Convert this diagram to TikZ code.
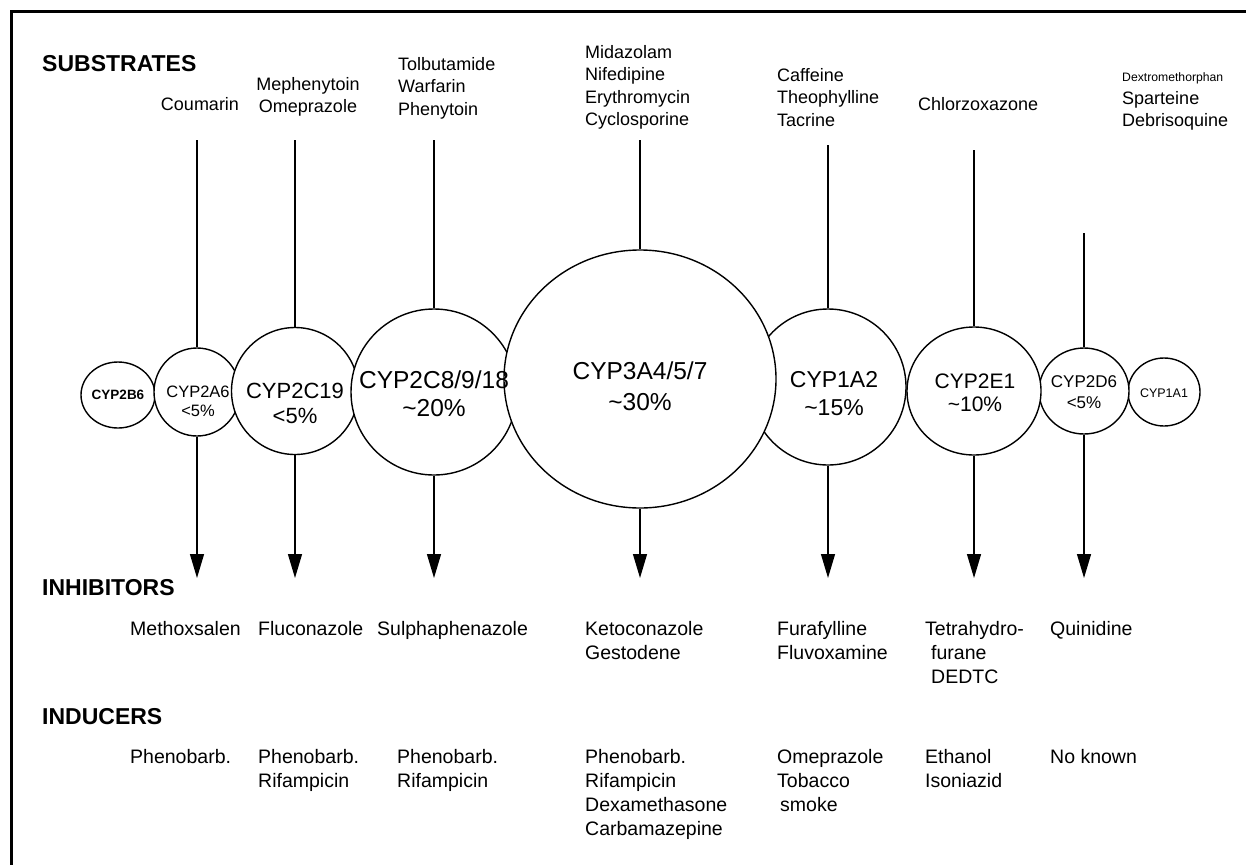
\documentclass[tikz,border=0pt]{standalone}
\usepackage{fontspec}
\setmainfont{Liberation Sans}
\usetikzlibrary{arrows.meta,shapes.geometric}
\begin{document}
\begin{tikzpicture}[x=1pt,y=-1pt,
  enz/.style={ellipse,draw=black,line width=1.4pt,fill=white,inner sep=0pt},
  clab/.style={inner sep=0pt,align=center,anchor=center},
  lbl/.style={inner sep=0pt,align=left,anchor=base west,font=\fontsize{19.5}{24}\selectfont},
  sub/.style={inner sep=0pt,align=left,anchor=base west,font=\fontsize{18}{22.3}\selectfont},
  hdr/.style={inner sep=0pt,anchor=base west,font=\bfseries\fontsize{23}{27}\selectfont},
  conn/.style={line width=1.3pt},
  arr/.style={line width=1.3pt,-{Triangle[width=14pt,length=24pt]}}]
\useasboundingbox (0,0) rectangle (1246,865);
\draw[line width=3pt] (1246,11) -- (11,11) -- (11,865);

% headers
\node[hdr] (hsub) at (42,71) {SUBSTRATES};
\node[hdr] (hinh) at (42,595) {INHIBITORS};
\node[hdr] (hind) at (42,724) {INDUCERS};

% substrates (base = last line baseline)
\node[sub,anchor=base] (sCou) at (200,110.5) {Coumarin};
\node[sub,anchor=base,align=center] (sMep) at (308,112.8) {Mephenytoin\\Omeprazole};
\node[sub] (sTol) at (398,115.1) {Tolbutamide\\Warfarin\\Phenytoin};
\node[sub] (sMid) at (585,125.4) {Midazolam\\Nifedipine\\Erythromycin\\Cyclosporine};
\node[sub] (sCaf) at (777,126.1) {Caffeine\\Theophylline\\Tacrine};
\node[sub] (sChl) at (918,110.5) {Chlorzoxazone};
\node[sub,font=\fontsize{12.2}{15}\selectfont] (sDex) at (1122,81) {Dextromethorphan};
\node[sub] (sSpa) at (1122,126.8) {Sparteine\\Debrisoquine};

% enzymes (small first, large on top)
\node[enz,minimum width=74pt,minimum height=66pt] (c2B6) at (118,395) {};
\node[enz,minimum width=72pt,minimum height=68pt] (c1A1) at (1164,392) {};
\node[enz,minimum width=86pt,minimum height=88pt] (c2A6) at (197,392) {};
\node[enz,minimum width=90pt,minimum height=86pt] (c2D6) at (1084,391) {};
\node[enz,minimum width=127pt,minimum height=127pt] (c2C19) at (295,391) {};
\node[enz,minimum width=134pt,minimum height=128pt] (c2E1) at (974,391) {};
\node[enz,minimum width=156pt,minimum height=156pt] (c1A2) at (828,387) {};
\node[enz,minimum width=166pt,minimum height=166pt] (c2C8) at (434,392) {};
\node[enz,minimum width=272pt,minimum height=258pt] (c3A4) at (640,379) {};

\node[clab,font=\bfseries\fontsize{13.5}{15}\selectfont] (l2B6) at (118,395) {CYP2B6};
\node[clab,font=\fontsize{16.5}{19}\selectfont] (l2A6) at (198,401) {CYP2A6\\<5\%};
\node[clab,font=\fontsize{22}{25}\selectfont] (l2C19) at (295,403) {CYP2C19\\<5\%};
\node[clab,font=\fontsize{24.5}{28}\selectfont] (l2C8) at (434,394) {CYP2C8/9/18\\\textasciitilde20\%};
\node[clab,font=\fontsize{24.5}{31}\selectfont] (l3A4) at (640,386) {CYP3A4/5/7\\\textasciitilde30\%};
\node[clab,font=\fontsize{23}{28}\selectfont] (l1A2) at (834,394) {CYP1A2\\\textasciitilde15\%};
\node[clab,font=\fontsize{21}{23.5}\selectfont] (l2E1) at (975,393) {CYP2E1\\\textasciitilde10\%};
\node[clab,font=\fontsize{17}{21}\selectfont] (l2D6) at (1084,392) {CYP2D6\\<5\%};
\node[clab,font=\fontsize{12.5}{14}\selectfont] (l1A1) at (1164,393) {CYP1A1};

% connector ends
\coordinate (s2A6) at (197,140);
\coordinate (s2C19) at (295,140);
\coordinate (s2C8) at (434,140);
\coordinate (s3A4) at (640,140);
\coordinate (s1A2) at (828,145);
\coordinate (s2E1) at (974,150);
\coordinate (s2D6) at (1084,233);
\coordinate (e2A6) at (197,578);
\coordinate (e2C19) at (295,578);
\coordinate (e2C8) at (434,578);
\coordinate (e3A4) at (640,578);
\coordinate (e1A2) at (828,578);
\coordinate (e2E1) at (974,578);
\coordinate (e2D6) at (1084,578);

\draw[conn] (s2A6) -- (c2A6.north);
\draw[conn] (s2C19) -- (c2C19.north);
\draw[conn] (s2C8) -- (c2C8.north);
\draw[conn] (s3A4) -- (c3A4.north);
\draw[conn] (s1A2) -- (c1A2.north);
\draw[line width=2.4pt] (s2E1) -- (c2E1.north);
\draw[conn] (s2D6) -- (c2D6.north);

\draw[arr] (c2A6.south) -- (e2A6);
\draw[arr] (c2C19.south) -- (e2C19);
\draw[arr] (c2C8.south) -- (e2C8);
\draw[arr] (c3A4.south) -- (e3A4);
\draw[arr] (c1A2.south) -- (e1A2);
\draw[arr] (c2E1.south) -- (e2E1);
\draw[arr] (c2D6.south) -- (e2D6);

% inhibitors
\node[lbl] (iMet) at (130,635) {Methoxsalen};
\node[lbl] (iFlu) at (258,635) {Fluconazole};
\node[lbl] (iSul) at (377,635) {Sulphaphenazole};
\node[lbl] (iKet) at (585,659) {Ketoconazole\\Gestodene};
\node[lbl] (iFur) at (777,659) {Furafylline\\Fluvoxamine};
\node[lbl] (iTet) at (925,683) {Tetrahydro-\\\hspace*{6pt}furane\\\hspace*{6pt}DEDTC};
\node[lbl] (iQui) at (1050,635) {Quinidine};

% inducers
\node[lbl] (dPh1) at (130,763) {Phenobarb.};
\node[lbl] (dPh2) at (258,787) {Phenobarb.\\Rifampicin};
\node[lbl] (dPh3) at (397,787) {Phenobarb.\\Rifampicin};
\node[lbl] (dPh4) at (585,835) {Phenobarb.\\Rifampicin\\Dexamethasone\\Carbamazepine};
\node[lbl] (dOme) at (777,811) {Omeprazole\\Tobacco\\\hspace*{3pt}smoke};
\node[lbl] (dEth) at (925,787) {Ethanol\\Isoniazid};
\node[lbl] (dNo) at (1050,763) {No known};
\end{tikzpicture}
\end{document}
